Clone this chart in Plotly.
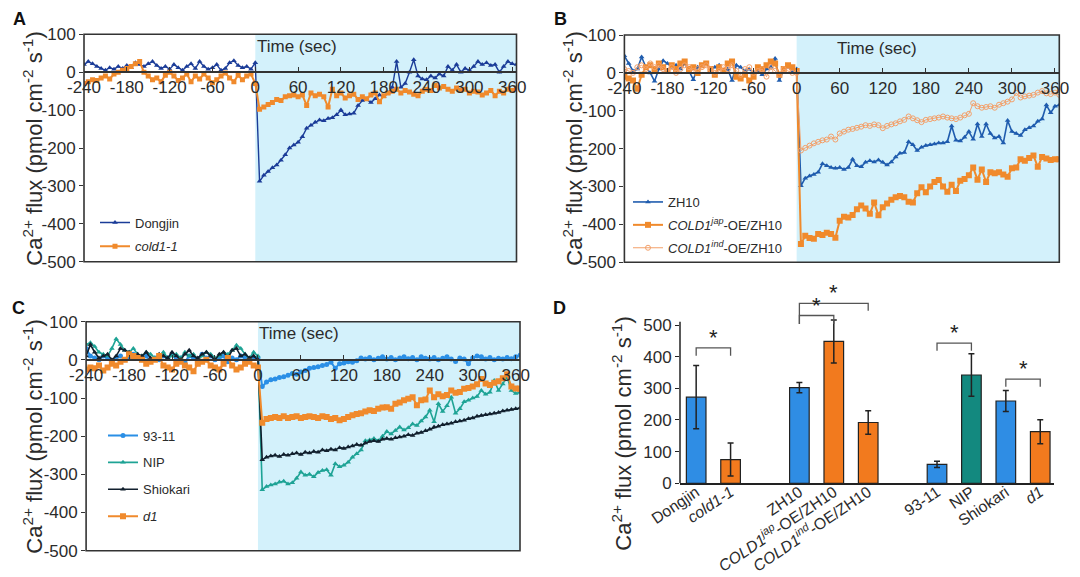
import plotly.graph_objects as go

W, H = 1080, 577
FONT = "Liberation Sans, Arial, sans-serif"
TXT = "#2b2b2b"

# ---------------- data ----------------
time_s = list(range(-240, 367, 6))  # sampling grid, 102 points
x_ticks = [-240, -180, -120, -60, 0, 60, 120, 180, 240, 300, 360]
x_tick_text = ["-240", "-180", "-120", "-60", "0", "60", "120", "180", "240", "300", "360"]
y_ticks_flux = [-500, -400, -300, -200, -100, 0, 100]
y_tick_text = ["-500", "-400", "-300", "-200", "-100", "0", "100"]

# Panel A
dongjin = [20, 28, 22, 15, 10, 5, 12, 8, 15, 10,
           18, 12, 25, 20, 15, 22, 28, 18, 10, 15,
           8, 20, 12, 5, 15, 22, 10, 28, 15, 8,
           12, 20, 5, 10, 25, 30, 18, 12, 15, 8,
           25,
           -288, -272, -262, -252, -245, -232, -218, -200, -192, -185,
           -170, -148, -140, -132, -126, -128, -122, -120, -112, -100,
           -112, -110, -108, -88, -75, -72, -80, -70, -60, -65,
           -55, -40, 28, -40, -30, 0, 33, -10, -18, -20,
           -10, -15, -5, -10, 15, 5, 20, 0, 10, 5,
           15, 28, 20, 25, 18, 20, 0, 15, 28, 22,
           20]
cold1_1 = [-30, -25, -20, -22, -15, -10, -18, -5, 0, 5,
           10, 15, 22, 28, 0, -10, -20, -15, -25, -8,
           0, -10, -22, -15, -5, -25, -10, -18, -5, -15,
           -28, -20, -10, -2, -15, -25, -8, -20, -10, -5,
           -30,
           -98, -92, -85, -80, -72, -75, -65, -62, -60, -65,
           -60, -88, -55, -62, -58, -65, -92, -45, -62, -55,
           -68, -62, -58, -72, -65, -70, -60, -55, -78, -62,
           -55, -50, -45, -55, -48, -52, -58, -62, -50, -45,
           -48, -35, -42, -38, -45, -50, -42, -48, -45, -55,
           -50, -52, -60, -55, -48, -62, -50, -55, -45, -48,
           -42]

# Panel B
zh10 = [45, 25, 5, 10, 42, 15, 0, -22, 10, 32,
        25, 15, 20, 10, 25, 5, -18, 15, 20, 25,
        10, 15, 20, 5, 10, -20, 20, 15, 5, 10,
        0, 5, -5, 10, 15, 38, -20, 10, 15, 5,
        10,
        -298, -278, -272, -268, -262, -240, -245, -250, -252, -250,
        -255, -250, -228, -245, -248, -236, -232, -235, -230, -236,
        -243, -235, -222, -212, -210, -182, -190, -205, -196, -192,
        -190, -188, -185, -185, -182, -140, -178, -180, -170, -155,
        -175, -135, -168, -135, -160, -172, -168, -185, -126, -155,
        -160, -165, -150, -145, -140, -128, -122, -85, -105, -88,
        -85]
cold1_jap = [-10, -15, -20, -42, -5, 15, 20, 10, 25, 15,
             5, 20, 10, 25, 30, 10, 15, 0, 20, 25,
             10, -5, 15, 5, 25, 30, -10, -15, -5, -20,
             -10, 15, 10, 20, 30, 25, -5, 10, 20, 15,
             5,
             -452, -430, -436, -438, -425, -428, -422, -425, -435, -390,
             -380, -382, -375, -360, -350, -358, -372, -342, -376, -355,
             -345, -335, -328, -325, -328, -340, -342, -318, -302, -315,
             -300, -288, -283, -300, -314, -295, -312, -285, -280, -270,
             -250, -282, -255, -288, -262, -265, -262, -268, -274, -252,
             -250, -228, -232, -225, -218, -248, -222, -226, -230, -228,
             -228]
cold1_ind = [10, 5, 0, 15, 20, 10, 25, 15, 20, 10,
             5, 15, 0, 10, 20, 15, 5, 10, 15, 20,
             10, 0, 5, 15, 10, 20, 5, -5, 10, 15,
             0, 5, 10, -10, 15, 5, -5, 10, 5, 0,
             0,
             -205, -198, -192, -186, -182, -178, -176, -168, -176, -160,
             -155, -150, -148, -145, -142, -138, -140, -136, -138, -146,
             -140, -136, -133, -128, -124, -115, -120, -125, -130, -124,
             -122, -120, -118, -115, -118, -120, -122, -118, -112, -108,
             -80, -88, -92, -90, -88, -92, -84, -80, -76, -70,
             -53, -65, -62, -60, -58, -52, -48, -54, -56, -52,
             -58]

# Panel C
v93_11 = [30, 10, 5, 0, 10, 5, -5, 5, 10, 0,
          5, 15, 5, 0, 10, -5, 5, 0, 10, 5,
          15, 0, 5, -5, 10, 5, 0, 15, 5, 10,
          0, 5, 10, -5, 5, 0, 10, 5, 0, 5,
          5,
          -70, -58, -52, -50, -46, -44, -40, -36, -38, -32,
          -28, -22, -20, -18, -15, -12, -6, -22, -10, -8,
          -5, -6, -2, 5, 2, 6, 0, 4, 8, 2,
          6, 0, 5, 8, 3, 6, 0, 8, 4, 2,
          6, 0, 4, 8, 2, -4, 5, 2, -10, 5,
          10, 8, 2, 6, 0, 4, 2, 6, 3, 8,
          12]
nip = [40, 45, 35, 20, 15, 10, 30, 55, 40, 25,
       20, 30, 15, 10, 20, 15, 5, 10, 20, 5,
       10, 15, 5, 20, 10, 15, 0, 10, 20, 15,
       5, 10, 20, 15, 25, 38, 30, 15, 5, 20,
       10,
       -340, -332, -328, -325, -320, -318, -325, -322, -310, -294,
       -302, -300, -306, -295, -290, -288, -302, -272, -280, -276,
       -268, -255, -246, -236, -212, -210, -206, -212, -200, -188,
       -194, -185, -176, -184, -178, -168, -172, -160, -150, -132,
       -162, -115, -135, -120, -98, -140, -128, -110, -106, -100,
       -96, -80, -90, -85, -54, -80, -63, -45, -80, -88,
       -85]
shiokari = [10, 40, 20, 5, 10, 15, 0, 10, 30, 25,
            20, 5, 15, 10, 20, 5, 0, 15, 10, 5,
            20, 10, 0, 15, 25, 10, 5, 15, 20, 10,
            0, 15, 20, 5, 25, 30, 10, 15, 5, 10,
            0,
            -262, -255, -252, -250, -253, -248, -250, -246, -244, -248,
            -242, -244, -240, -242, -236, -238, -234, -236, -230, -232,
            -228, -226, -222, -224, -218, -214, -212, -214, -208, -206,
            -208, -204, -202, -200, -196, -198, -192, -190, -186, -182,
            -176, -174, -170, -168, -166, -162, -160, -158, -154, -152,
            -148, -146, -144, -142, -140, -138, -134, -132, -130, -128,
            -126]
d1 = [-25, -20, -22, -15, -28, -20, -10, -15, -5, 0,
      15, 10, 5, 0, -10, -5, 0, 10, -15, -20,
      -25, -10, -5, -15, -20, -30, -10, -5, 0, -15,
      -20, -25, -10, 5, -15, -25, -20, -10, -5, -15,
      -20,
      -165, -155, -152, -150, -152, -148, -152, -150, -148, -152,
      -150, -148, -150, -152, -148, -150, -155, -152, -158, -155,
      -150, -145, -142, -140, -135, -132, -134, -128, -125, -124,
      -128, -115, -112, -106, -102, -98, -119, -106, -104, -80,
      -98, -90, -95, -92, -80, -86, -84, -76, -74, -70,
      -64, -50, -62, -66, -60, -56, -48, -38, -70, -75,
      -76]

# Panel D
bar_groups = [["Dongjin", "cold1-1"],
              ["ZH10", "COLD1jap-OE/ZH10", "COLD1ind-OE/ZH10"],
              ["93-11", "NIP", "Shiokari", "d1"]]
bar_labels = ["Dongjin", "<i>cold1-1</i>", "ZH10",
              "<i>COLD1<sup>jap</sup></i>-OE/ZH10",
              "<i>COLD1<sup>ind</sup></i>-OE/ZH10",
              "93-11", "NIP", "Shiokari", "<i>d1</i>"]
bar_values = [272, 75, 302, 448, 192, 60, 342, 260, 163]
bar_errors = [100, 52, 16, 68, 37, 10, 67, 33, 38]
d_ticks = [0, 100, 200, 300, 400, 500]
# significance: (left idx, right idx, bracket height, left foot, right foot)
sig_pairs = [(0, 1, 428, 403, 403),
             (2, 3, 530, 503, 503),
             (2, 4, 568, 503, 545),
             (5, 6, 443, 419, 419),
             (7, 8, 329, 305, 305)]

# ---------------- styles ----------------
BLUE_BAR, ORANGE_BAR, TEAL_BAR = "#2f8de4", "#f27a1e", "#13897f"
bar_colors = [BLUE_BAR, ORANGE_BAR, BLUE_BAR, ORANGE_BAR, ORANGE_BAR,
              BLUE_BAR, TEAL_BAR, BLUE_BAR, ORANGE_BAR]
SHADE = "#d3f1fb"
FRAME = "#333333"


def fx(p):
    return p / W


def fy(p):
    return 1 - p / H


# pixel boxes (left, right, top, bottom)
boxes = {
    "A": (84.0, 516.5, 34.3, 261.7),
    "B": (624.4, 1059.3, 35.0, 262.3),
    "C": (86.1, 520.0, 321.7, 550.7),
}
X_RANGE = [-240, 366]
Y_RANGE = [-500, 100]

fig = go.Figure()

series = {
    "A": [("Dongjin", dongjin, "#1b3c98", "triangle-up", 5, 1.4),
          ("<i>cold1-1</i>", cold1_1, "#f08a2c", "square", 5, 2.0)],
    "B": [("ZH10", zh10, "#1f5cae", "triangle-up", 5, 1.6),
          ("<i>COLD1<sup>jap</sup></i>-OE/ZH10", cold1_jap, "#f08a2c", "square", 6, 2.0),
          ("<i>COLD1<sup>ind</sup></i>-OE/ZH10", cold1_ind, "#f3a06a", "circle-open", 5, 1.0)],
    "C": [("93-11", v93_11, "#2a8fe6", "circle", 5, 2.0),
          ("NIP", nip, "#1ea395", "triangle-up", 5, 1.6),
          ("Shiokari", shiokari, "#12202e", "triangle-up", 5, 1.6),
          ("<i>d1</i>", d1, "#f08a2c", "square", 6, 2.0)],
}
axis_ids = {"A": "", "B": "2", "C": "3"}
legend_ids = {"A": "legend", "B": "legend2", "C": "legend3"}

shapes = []
annotations = []

for key in ["A", "B", "C"]:
    sid = axis_ids[key]
    l, r, t, b = boxes[key]
    ydom = [fy(b), fy(t)]
    zero_frac = ydom[0] + (0 - Y_RANGE[0]) / (Y_RANGE[1] - Y_RANGE[0]) * (ydom[1] - ydom[0])
    fig.update_layout(**{
        "xaxis" + sid: dict(domain=[fx(l), fx(r)], range=X_RANGE, anchor="free",
                            position=zero_frac, showline=True, linecolor=FRAME,
                            linewidth=1.5, ticks="inside", ticklen=4, tickcolor=FRAME,
                            tickvals=x_ticks, ticktext=x_tick_text, showgrid=False,
                            zeroline=False, automargin=False,
                            tickfont=dict(size=17, color=TXT, family=FONT)),
        "yaxis" + sid: dict(domain=ydom, range=Y_RANGE, anchor="x" + sid,
                            showline=False, ticks="outside", ticklen=4,
                            tickcolor=FRAME, tickvals=y_ticks_flux, ticktext=y_tick_text,
                            showgrid=False, zeroline=False, automargin=False,
                            tickfont=dict(size=17, color=TXT, family=FONT)),
    })
    xr = "x" + sid
    yr = "y" + sid
    # cold-treatment shading
    shapes.append(dict(type="rect", xref=xr, yref=yr + " domain", x0=0, x1=X_RANGE[1],
                       y0=0, y1=1, fillcolor=SHADE, line=dict(width=0), layer="below"))
    # frame
    shapes.append(dict(type="rect", xref=xr + " domain", yref=yr + " domain",
                       x0=0, x1=1, y0=0, y1=1, line=dict(color=FRAME, width=1.6),
                       layer="above"))
    for name, vals, col, sym, size, lw in series[key]:
        mk = dict(symbol=sym, size=size, color=col)
        if sym == "circle-open":
            mk["line"] = dict(width=1, color=col)
        fig.add_trace(go.Scatter(
            x=time_s, y=vals, mode="lines+markers", name=name,
            line=dict(color=col, width=lw), marker=mk,
            xaxis=xr, yaxis=yr, legend=legend_ids[key], legendgroup=name))

legend_common = dict(xanchor="left", yanchor="top", bgcolor="rgba(0,0,0,0)",
                     font=dict(size=13, color=TXT, family=FONT),
                     traceorder="grouped", itemwidth=30)
fig.update_layout(
    legend=dict(x=fx(95), y=fy(207.5), tracegroupgap=4, **legend_common),
    legend2=dict(x=fx(628), y=fy(187), tracegroupgap=3, **legend_common),
    legend3=dict(x=fx(103), y=fy(420.5), tracegroupgap=7, **legend_common),
)

# ---------------- Panel D ----------------
positions = []
slot = 0
for g in bar_groups:
    for _ in g:
        positions.append(slot)
        slot += 1
    slot += 1

D_L, D_R = 680.0, 1054.0
D_ZERO, D_500 = 483.3, 325.0
D_YMAX = 610
px_per_unit = (D_ZERO - D_500) / 500
d_top = D_ZERO - D_YMAX * px_per_unit

fig.add_trace(go.Bar(
    x=positions, y=bar_values, width=0.57,
    marker=dict(color=bar_colors, line=dict(color="#222222", width=1.2)),
    error_y=dict(type="data", array=bar_errors, color="#222222", thickness=1.5, width=3),
    xaxis="x4", yaxis="y4", showlegend=False))

fig.update_layout(
    xaxis4=dict(domain=[fx(D_L), fx(D_R)], range=[-0.47, positions[-1] + 0.4],
                anchor="y4", showline=True, linecolor="#222222", linewidth=1.5,
                ticks="", tickvals=positions, ticktext=bar_labels, tickangle=-34,
                ticklabelstandoff=-8,
                showgrid=False, zeroline=False, automargin=False,
                tickfont=dict(size=15.8, color=TXT, family=FONT)),
    yaxis4=dict(domain=[fy(D_ZERO), fy(d_top)], range=[0, D_YMAX], anchor="x4",
                showline=False, ticks="outside", ticklen=4, tickcolor="#222222",
                tickvals=d_ticks, showgrid=False, zeroline=False, automargin=False,
                tickfont=dict(size=17, color=TXT, family=FONT)),
)
shapes.append(dict(type="line", xref="x4 domain", yref="y4", x0=0, x1=0, y0=0, y1=510,
                   line=dict(color="#222222", width=1.5)))

for li, ri, h, lf, rf in sig_pairs:
    xl, xr_ = positions[li], positions[ri]
    shapes.append(dict(type="path", xref="x4", yref="y4",
                       path=f"M {xl},{lf} L {xl},{h} L {xr_},{h} L {xr_},{rf}",
                       line=dict(color="#555555", width=1.3)))
    annotations.append(dict(x=(xl + xr_) / 2, y=h, xref="x4", yref="y4", text="*",
                            showarrow=False, yanchor="bottom", yshift=-4,
                            font=dict(size=22, color="#222222", family=FONT)))

# ---------------- text ----------------
ytitle = "Ca<sup>2+</sup> flux (pmol cm<sup>-2</sup> s<sup>-1</sup>)"
for xp, yp in [(32.7, 149), (572.7, 149), (32.7, 437), (621.7, 434)]:
    annotations.append(dict(x=fx(xp), y=fy(yp), xref="paper", yref="paper", text=ytitle,
                            textangle=-90, showarrow=False, xanchor="center",
                            yanchor="middle",
                            font=dict(size=22, color=TXT, family=FONT)))

for txt, xp, yp in [("Time (sec)", 297, 46.7), ("Time (sec)", 877, 48.3),
                    ("Time (sec)", 298.5, 333.3)]:
    annotations.append(dict(x=fx(xp), y=fy(yp), xref="paper", yref="paper", text=txt,
                            showarrow=False, xanchor="center", yanchor="middle",
                            font=dict(size=17, color=TXT, family=FONT)))

for txt, xp, yp in [("A", 19, 19), ("B", 560, 19), ("C", 18, 307.5), ("D", 559, 308)]:
    annotations.append(dict(x=fx(xp), y=fy(yp), xref="paper", yref="paper",
                            text=f"<b>{txt}</b>", showarrow=False, xanchor="center",
                            yanchor="middle",
                            font=dict(size=18, color="#111111", family=FONT)))

fig.update_layout(
    template="none",
    width=W, height=H,
    margin=dict(l=0, r=0, t=0, b=0),
    paper_bgcolor="white", plot_bgcolor="white",
    font=dict(family=FONT, color=TXT),
    shapes=shapes, annotations=annotations,
    bargap=0.4,
)

fig.write_html(
    "out.html",
    config={"displayModeBar": False},
    post_script="document.body.style.margin='0px';document.body.style.padding='0px';"
                "document.body.style.overflow='hidden';window.scrollTo(0,0);",
)
